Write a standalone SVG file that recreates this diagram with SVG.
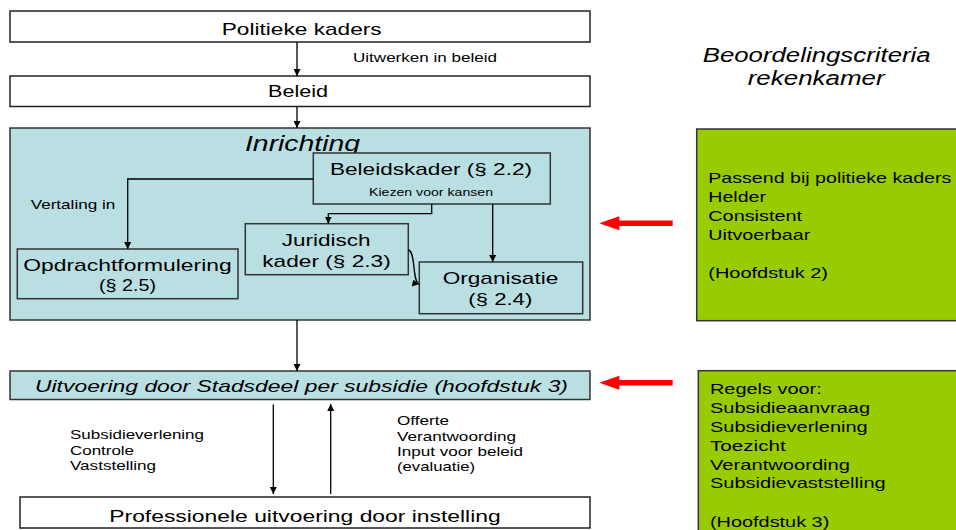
<svg xmlns="http://www.w3.org/2000/svg" width="956" height="530" viewBox="0 0 956 530">
<style>
text{font-family:"Liberation Sans",Arial,sans-serif;fill:#000}
.box{fill:#fff;stroke:#222;stroke-width:1.5}
.blue{fill:#b9dfe3;stroke:#333;stroke-width:1.5}
.green{fill:#99cc00;stroke:#333;stroke-width:1.5}
.c{fill:none;stroke:#000;stroke-width:1.3}
.red{fill:#ff0000;stroke:none}
.t17{font-size:17px}
.t13{font-size:13px}
.g15{font-size:15px}
.it{font-style:italic}
</style>
<defs>
<marker id="ah" viewBox="0 0 10 10" refX="10" refY="5" markerWidth="7" markerHeight="7" markerUnits="userSpaceOnUse" orient="auto">
<path d="M0,0 L10,5 L0,10 z" fill="#000"/>
</marker>
</defs>

<g id="politieke">
<rect class="box" x="10" y="11" width="580" height="31"/>
<text class="t17" x="221.7" y="35" textLength="160" lengthAdjust="spacingAndGlyphs">Politieke kaders</text>
</g>
<g id="beleid">
<rect class="box" x="10" y="76" width="580" height="30.5"/>
<text class="t17" x="268" y="96.5" textLength="60" lengthAdjust="spacingAndGlyphs">Beleid</text>
</g>
<g id="inrichting">
<rect class="blue" x="10" y="128" width="580" height="192"/>
<text class="it" font-size="21.5" x="245" y="150.7" textLength="115" lengthAdjust="spacingAndGlyphs">Inrichting</text>
</g>
<g id="beleidskader">
<rect class="blue" x="313.3" y="153" width="237" height="51"/>
<text class="t17" x="330" y="174.7" textLength="202" lengthAdjust="spacingAndGlyphs">Beleidskader (§ 2.2)</text>
<text font-size="11" x="369" y="196.3" textLength="124" lengthAdjust="spacingAndGlyphs">Kiezen voor kansen</text>
</g>
<g id="opdracht">
<rect class="blue" x="17.3" y="249" width="220.7" height="49.7"/>
<text class="t17" x="23.3" y="271.3" textLength="208.4" lengthAdjust="spacingAndGlyphs">Opdrachtformulering</text>
<text class="t17" x="99" y="291.3" textLength="57" lengthAdjust="spacingAndGlyphs">(§ 2.5)</text>
</g>
<g id="juridisch">
<rect class="blue" x="245.3" y="223.7" width="163" height="51"/>
<text class="t17" x="281.7" y="246.3" textLength="89" lengthAdjust="spacingAndGlyphs">Juridisch</text>
<text class="t17" x="262.3" y="267" textLength="128.4" lengthAdjust="spacingAndGlyphs">kader (§ 2.3)</text>
</g>
<g id="organisatie">
<rect class="blue" x="419.3" y="262" width="163.4" height="51.7"/>
<text class="t17" x="442.7" y="284" textLength="115.6" lengthAdjust="spacingAndGlyphs">Organisatie</text>
<text class="t17" x="468.3" y="304.7" textLength="64" lengthAdjust="spacingAndGlyphs">(§ 2.4)</text>
</g>
<g id="uitvoering">
<rect class="blue" x="10" y="371" width="580" height="28.5"/>
<text class="t17 it" x="35" y="392" textLength="533" lengthAdjust="spacingAndGlyphs">Uitvoering door Stadsdeel per subsidie (hoofdstuk 3)</text>
</g>
<g id="professionele">
<rect class="box" x="20" y="497" width="570" height="31"/>
<text class="t17" x="109.3" y="521.5" textLength="391.4" lengthAdjust="spacingAndGlyphs">Professionele uitvoering door instelling</text>
</g>

<g id="titel">
<text class="it" font-size="20" x="702.7" y="61.7" textLength="228" lengthAdjust="spacingAndGlyphs">Beoordelingscriteria</text>
<text class="it" font-size="20" x="747.7" y="85" textLength="137" lengthAdjust="spacingAndGlyphs">rekenkamer</text>
</g>
<g id="criteria2">
<rect class="green" x="696.7" y="129" width="270" height="191.7"/>
<text class="g15" x="708.3" y="183.3" textLength="243" lengthAdjust="spacingAndGlyphs">Passend bij politieke kaders</text>
<text class="g15" x="708.3" y="201.7" textLength="57.7" lengthAdjust="spacingAndGlyphs">Helder</text>
<text class="g15" x="708.3" y="220.7" textLength="93.7" lengthAdjust="spacingAndGlyphs">Consistent</text>
<text class="g15" x="708.3" y="240" textLength="102" lengthAdjust="spacingAndGlyphs">Uitvoerbaar</text>
<text class="g15" x="708.3" y="278.3" textLength="119.7" lengthAdjust="spacingAndGlyphs">(Hoofdstuk 2)</text>
</g>
<g id="criteria3">
<rect class="green" x="698.3" y="370.7" width="270" height="170"/>
<text class="g15" x="710" y="394" textLength="111.7" lengthAdjust="spacingAndGlyphs">Regels voor:</text>
<text class="g15" x="710" y="413.3" textLength="160" lengthAdjust="spacingAndGlyphs">Subsidieaanvraag</text>
<text class="g15" x="710" y="432.3" textLength="157.7" lengthAdjust="spacingAndGlyphs">Subsidieverlening</text>
<text class="g15" x="710" y="451" textLength="75.7" lengthAdjust="spacingAndGlyphs">Toezicht</text>
<text class="g15" x="710" y="470" textLength="140" lengthAdjust="spacingAndGlyphs">Verantwoording</text>
<text class="g15" x="710" y="488.3" textLength="175.7" lengthAdjust="spacingAndGlyphs">Subsidievaststelling</text>
<text class="g15" x="710" y="526.7" textLength="119.3" lengthAdjust="spacingAndGlyphs">(Hoofdstuk 3)</text>
</g>

<g id="connectors">
<path class="c" d="M297,42 V76" marker-end="url(#ah)"/>
<path class="c" d="M297,106.5 V128" marker-end="url(#ah)"/>
<path class="c" d="M313.3,179 H127.7 V249" marker-end="url(#ah)"/>
<path class="c" d="M431.7,204 V213.7 H328.3 V223.7" marker-end="url(#ah)"/>
<path class="c" d="M492.7,204 V262" marker-end="url(#ah)"/>
<path class="c" d="M408.3,250 C416,251 412,283 419.3,284" marker-end="url(#ah)"/>
<path class="c" d="M297,320 V371" marker-end="url(#ah)"/>
<path class="c" d="M273.3,404.5 V494" marker-end="url(#ah)"/>
<path class="c" d="M330.7,494 V404" marker-end="url(#ah)"/>
<path class="red" d="M672.7,220.6 H619.3 V216.3 L599.3,223.3 L619.3,230.3 V226 H672.7 Z"/>
<path class="red" d="M672.7,380 H619.3 V375.7 L599.3,382.7 L619.3,389.7 V385.4 H672.7 Z"/>
<text class="t13" x="353" y="61.7" textLength="144" lengthAdjust="spacingAndGlyphs">Uitwerken in beleid</text>
<text class="t13" x="30.7" y="209" textLength="84.6" lengthAdjust="spacingAndGlyphs">Vertaling in</text>
<text class="t13" x="70" y="439" textLength="134" lengthAdjust="spacingAndGlyphs">Subsidieverlening</text>
<text class="t13" x="70" y="454.7" textLength="64" lengthAdjust="spacingAndGlyphs">Controle</text>
<text class="t13" x="70" y="469.7" textLength="86" lengthAdjust="spacingAndGlyphs">Vaststelling</text>
<text class="t13" x="397" y="425.3" textLength="52" lengthAdjust="spacingAndGlyphs">Offerte</text>
<text class="t13" x="397" y="440.7" textLength="119" lengthAdjust="spacingAndGlyphs">Verantwoording</text>
<text class="t13" x="397" y="455.7" textLength="126" lengthAdjust="spacingAndGlyphs">Input voor beleid</text>
<text class="t13" x="397" y="470.5" textLength="78" lengthAdjust="spacingAndGlyphs">(evaluatie)</text>
</g>
</svg>
